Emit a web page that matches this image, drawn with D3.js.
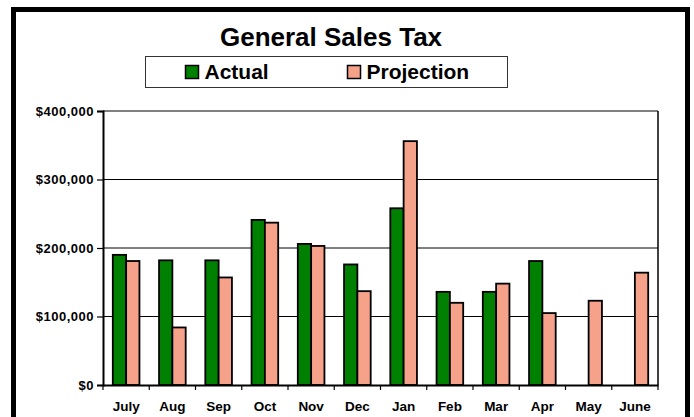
<!DOCTYPE html>
<html>
<head>
<meta charset="utf-8">
<script src="https://cdn.jsdelivr.net/npm/d3@7"></script>
<style>
  html, body { margin: 0; padding: 0; background: #fff; }
  svg { display: block; font-family: "Liberation Sans", Arial, sans-serif; }
</style>
</head>
<body>
<div id="chart"></div>
<script>
// Data
const months = ["July", "Aug", "Sep", "Oct", "Nov", "Dec", "Jan", "Feb", "Mar", "Apr", "May", "June"];
const actual = [190000, 182000, 182000, 241000, 206000, 176000, 258000, 136000, 136000, 181000, null, null];
const projection = [181000, 84000, 157000, 237000, 203000, 137000, 356000, 120000, 148000, 105000, 123000, 164000];
const seriesNames = ["Actual", "Projection"];
const yTicks = [0, 100000, 200000, 300000, 400000];

// Configuration
const width = 694;
const height = 417;
const marginTop = 111;
const marginLeft = 103;
const plotRight = 658;
const plotBottom = 385;
const colors = {Actual: "#008000", Projection: "#F6A189"};

const formatMoney = d3.format("$,.0f");

const rows = months.map((m, i) => ({month: m, Actual: actual[i], Projection: projection[i]}));

// Scales
const x0 = d3.scaleBand().domain(months).range([marginLeft, plotRight]).padding(0);
const barW = x0.bandwidth() * 0.288;
const x1 = d3.scaleBand().domain(seriesNames).range([0, barW * 2]).padding(0);
const y = d3.scaleLinear().domain([0, 400000]).range([plotBottom, marginTop]);

const svg = d3.select("#chart").append("svg")
  .attr("width", width)
  .attr("height", height)
  .attr("viewBox", [0, 0, width, height]);

// Outer frame
svg.append("rect")
  .attr("x", 13.5).attr("y", 9.5)
  .attr("width", 674).attr("height", 440)
  .attr("fill", "white")
  .attr("stroke", "black")
  .attr("stroke-width", 5);

// Title
svg.append("text")
  .attr("x", 331).attr("y", 46)
  .attr("text-anchor", "middle")
  .attr("font-size", 26)
  .attr("font-weight", "bold")
  .text("General Sales Tax");

// Legend
const legend = svg.append("g");
legend.append("rect")
  .attr("x", 145.5).attr("y", 56.5)
  .attr("width", 362).attr("height", 31)
  .attr("fill", "white")
  .attr("stroke", "#333")
  .attr("stroke-width", 1);
const legendX = [185.5, 347.5];
seriesNames.forEach((s, i) => {
  legend.append("rect")
    .attr("x", legendX[i]).attr("y", 65.5)
    .attr("width", 13).attr("height", 13)
    .attr("fill", colors[s])
    .attr("stroke", "black")
    .attr("stroke-width", 1.5);
  legend.append("text")
    .attr("x", legendX[i] + 19).attr("y", 79)
    .attr("font-size", 21)
    .attr("font-weight", "bold")
    .text(s);
});

// Gridlines
svg.append("g")
  .selectAll("line")
  .data(yTicks.slice(1))
  .join("line")
  .attr("x1", marginLeft).attr("x2", plotRight)
  .attr("y1", d => y(d)).attr("y2", d => y(d))
  .attr("stroke", "black")
  .attr("stroke-width", 1);

// Right border of plot
svg.append("line")
  .attr("x1", plotRight).attr("x2", plotRight)
  .attr("y1", marginTop).attr("y2", plotBottom)
  .attr("stroke", "black")
  .attr("stroke-width", 1.5);

// Bars
svg.append("g")
  .selectAll("g")
  .data(rows)
  .join("g")
  .attr("transform", d => `translate(${x0(d.month) + (x0.bandwidth() - barW * 2) / 2},0)`)
  .selectAll("rect")
  .data(d => seriesNames.map(s => ({key: s, value: d[s]})).filter(e => e.value != null))
  .join("rect")
  .attr("x", d => x1(d.key))
  .attr("y", d => y(d.value))
  .attr("width", x1.bandwidth())
  .attr("height", d => y(0) - y(d.value))
  .attr("fill", d => colors[d.key])
  .attr("stroke", "black")
  .attr("stroke-width", 1.8);

// Y axis
const yAxis = svg.append("g")
  .attr("transform", `translate(${marginLeft},0)`)
  .call(d3.axisLeft(y).tickValues(yTicks).tickFormat(formatMoney).tickSize(6).tickPadding(3));
yAxis.select(".domain").attr("stroke-width", 2);
yAxis.selectAll(".tick line").attr("stroke-width", 1.2);
yAxis.selectAll(".tick text")
  .attr("font-family", "Liberation Sans, Arial, sans-serif")
  .attr("font-size", 13)
  .attr("font-weight", "bold")
  .attr("letter-spacing", 0.5)
  .attr("fill", "black");

// X axis
const xAxis = svg.append("g")
  .attr("transform", `translate(0,${plotBottom})`)
  .call(d3.axisBottom(x0).tickSize(0).tickSizeOuter(0).tickPadding(16));
xAxis.select(".domain").attr("stroke-width", 2);
xAxis.selectAll(".tick text")
  .attr("font-family", "Liberation Sans, Arial, sans-serif")
  .attr("font-size", 13.5)
  .attr("font-weight", "bold")
  .attr("fill", "black");

// Category boundary ticks
const bounds = months.map(m => x0(m)).concat([plotRight]);
xAxis.append("g")
  .selectAll("line")
  .data(bounds)
  .join("line")
  .attr("x1", d => d).attr("x2", d => d)
  .attr("y1", 0).attr("y2", 5)
  .attr("stroke", "black")
  .attr("stroke-width", 1.2);
</script>
</body>
</html>
